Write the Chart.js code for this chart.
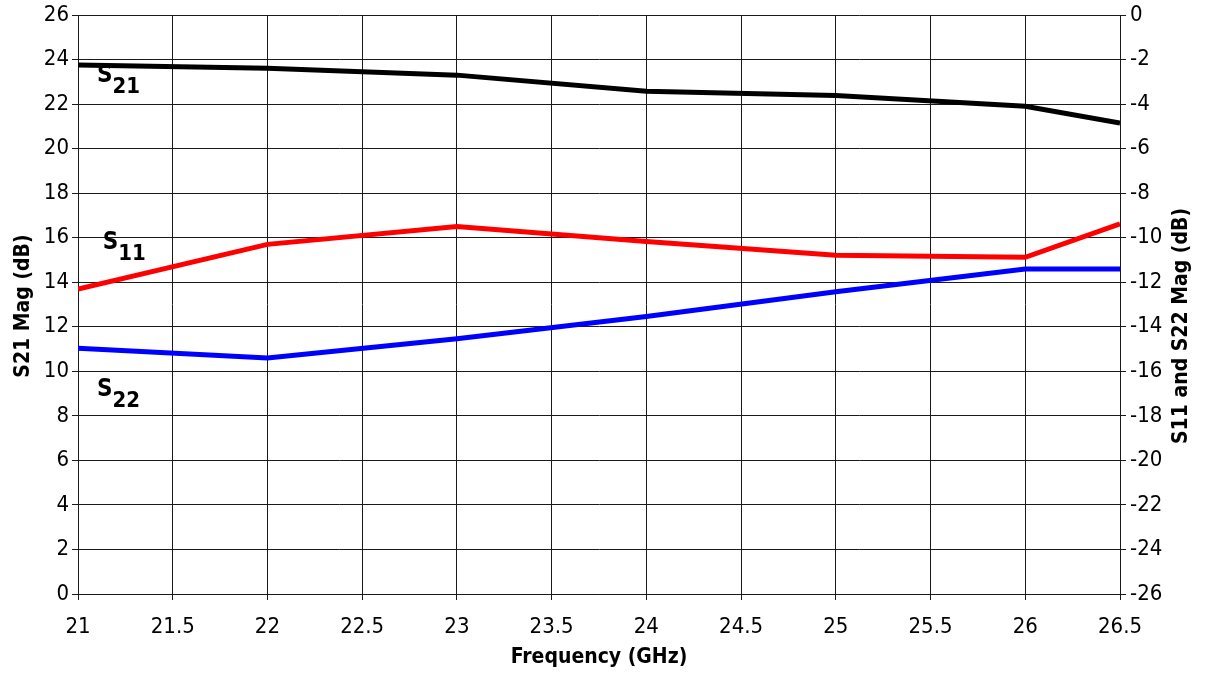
<!DOCTYPE html>
<html>
<head>
<meta charset="utf-8">
<script src="https://cdn.jsdelivr.net/npm/chart.js@4.4.1/dist/chart.umd.min.js"></script>
<style>
  html, body { margin:0; padding:0; background:#fff; }
  #wrap { width:1209px; height:673px; }
</style>
</head>
<body>
<div id="wrap"><canvas id="c" width="1209" height="673"></canvas></div>
<script>
/* ─── Data ───────────────────────────────────────────────────────────── */
const FREQ = [21, 22, 23, 24, 25, 26, 26.5];          // GHz
const S21  = [23.75, 23.61, 23.3, 22.58, 22.39, 21.9, 21.15];   // left axis, dB
const S11  = [-12.31, -10.3, -9.5, -10.17, -10.79, -10.88, -9.38]; // right axis, dB
const S22  = [-14.96, -15.4, -14.54, -13.54, -12.43, -11.41, -11.41];

const X_MIN = 21, X_MAX = 26.5, X_STEP = 0.5;
const L_MIN = 0,  L_MAX = 26,   R_MIN = -26, R_MAX = 0, Y_STEP = 2;

// label positions (in data units) for the S-parameter tags
const TAGS = [
  { main:"S", sub:"21", x:21.1,  y:23.0, axis:"y"  },
  { main:"S", sub:"11", x:21.13, y:-10.5, axis:"y2" },
  { main:"S", sub:"22", x:21.1,  y:-17.1, axis:"y2" },
];

const FONT = "'Liberation Sans Narrow','DejaVu Sans Condensed','Arial Narrow',sans-serif";
const GRID = "#1a1a1a";

const pts = ys => FREQ.map((f, i) => ({ x: f, y: ys[i] }));

/* ─── Plugin: axis titles + tags ─────────────────────────────────────── */
const decor = {
  id: "decor",
  afterDraw(chart) {
    const { ctx, chartArea: a, scales } = chart;
    ctx.save();
    ctx.fillStyle = "#000";
    ctx.font = `bold 21px ${FONT}`;
    ctx.textAlign = "center";
    ctx.textBaseline = "middle";

    // x title
    ctx.fillText("Frequency (GHz)", (a.left + a.right) / 2, 658);

    // left title (bottom → top)
    ctx.save();
    ctx.translate(24, 306);
    ctx.rotate(-Math.PI / 2);
    ctx.fillText("S21 Mag (dB)", 0, 0);
    ctx.restore();

    // right title (also bottom → top)
    ctx.save();
    ctx.translate(1182, 326);
    ctx.rotate(-Math.PI / 2);
    ctx.fillText("S11 and S22 Mag (dB)", 0, 0);
    ctx.restore();

    // S-parameter tags
    ctx.textAlign = "left";
    ctx.textBaseline = "alphabetic";
    TAGS.forEach(t => {
      const px = scales.x.getPixelForValue(t.x);
      const py = scales[t.axis].getPixelForValue(t.y);
      ctx.font = `bold 24px ${FONT}`;
      ctx.fillText(t.main, px, py);
      const w = ctx.measureText(t.main).width;
      ctx.font = `bold 22px ${FONT}`;
      ctx.fillText(t.sub, px + w, py + 11);
    });
    ctx.restore();
  },
};

/* ─── Chart ──────────────────────────────────────────────────────────── */
const tickFont = { family: FONT, size: 22, lineHeight: 1 };

new Chart(document.getElementById("c").getContext("2d"), {
  type: "line",
  data: {
    datasets: [
      { label:"S21", data: pts(S21), yAxisID:"y",  borderColor:"#000",    borderWidth:5 },
      { label:"S11", data: pts(S11), yAxisID:"y2", borderColor:"#ff0000", borderWidth:5 },
      { label:"S22", data: pts(S22), yAxisID:"y2", borderColor:"#0000ff", borderWidth:5 },
    ],
  },
  options: {
    responsive: false, animation: false,
    layout: { padding: { top: 1, bottom: 0, left: 0, right: 0 } },
    elements: { point: { radius: 0 }, line: { tension: 0, borderCapStyle: "butt", borderJoinStyle: "miter" } },
    plugins: { legend: { display: false }, tooltip: { enabled: false } },
    scales: {
      x: {
        type: "linear", min: X_MIN, max: X_MAX,
        ticks: { stepSize: X_STEP, color:"#000", font: tickFont, padding: 16, maxRotation: 0,
                 callback: v => String(v) },
        grid: { color: GRID, lineWidth: 1, tickLength: 6, tickColor: GRID },
        border: { color: GRID, width: 1 },
        afterFit: s => { s.height = 79; },
      },
      y: {
        position: "left", min: L_MIN, max: L_MAX,
        ticks: { stepSize: Y_STEP, color:"#000", font: tickFont, padding: 3 },
        grid: { color: GRID, lineWidth: 1, tickLength: 6, tickColor: GRID },
        border: { color: GRID, width: 1 },
        afterFit: s => { s.width = 78; },
      },
      y2: {
        position: "right", min: R_MIN, max: R_MAX,
        ticks: { stepSize: Y_STEP, color:"#000", font: tickFont, padding: 4 },
        grid: { drawOnChartArea: false, tickLength: 6, tickColor: GRID },
        border: { color: GRID, width: 1 },
        afterFit: s => { s.width = 89; },
      },
    },
  },
  plugins: [decor],
});
</script>
</body>
</html>
